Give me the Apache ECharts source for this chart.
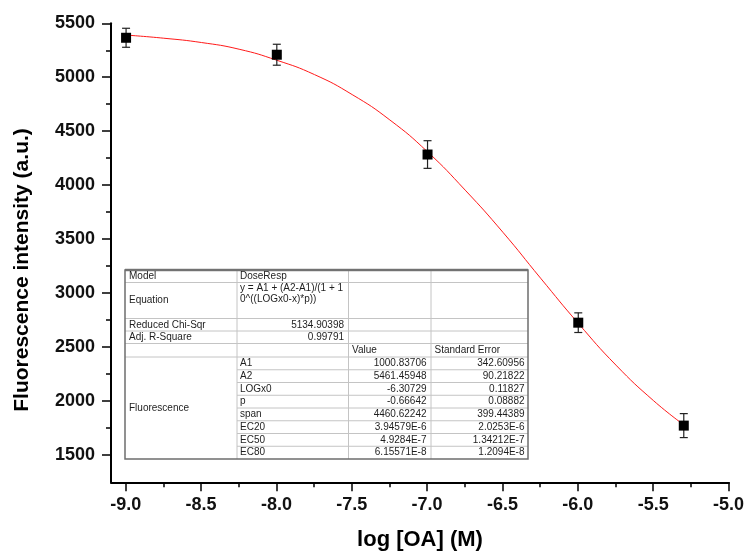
<!DOCTYPE html>
<html>
<head>
<meta charset="utf-8">
<script src="https://cdn.jsdelivr.net/npm/echarts@6/dist/echarts.min.js"></script>
<style>
html,body{margin:0;padding:0;background:#fff;}
#chart{width:747px;height:557px;}
</style>
</head>
<body>
<div id="chart"></div>
<script>
// ---- data ----
const doseX = [-9, -8, -7, -6, -5.3];
const meanY = [5366, 5209, 4285, 2728, 1775];
const errY = [88, 97, 128, 91, 111];
const fitX = [-9, -8.75, -8.5, -8.25, -8, -7.75, -7.5, -7.25, -7, -6.75, -6.5, -6.25, -6, -5.75, -5.5, -5.3];
const fitY = [5391, 5362, 5322, 5260, 5158, 5025, 4840, 4605, 4310, 3955, 3565, 3140, 2722, 2335, 2005, 1782];

const xTitle = 'log [OA] (M)';
const yTitle = 'Fluorescence intensity (a.u.)';

const tableModel = 'DoseResp';
const tableEquation = ['y = A1 + (A2-A1)/(1 + 1', '0^((LOGx0-x)*p))'];
const tableChiSqr = '5134.90398';
const tableAdjR2 = '0.99791';
const tableGroup = 'Fluorescence';
const paramNames = ['A1', 'A2', 'LOGx0', 'p', 'span', 'EC20', 'EC50', 'EC80'];
const paramValues = ['1000.83706', '5461.45948', '-6.30729', '-0.66642', '4460.62242', '3.94579E-6', '4.9284E-7', '6.15571E-8'];
const paramErrors = ['342.60956', '90.21822', '0.11827', '0.08882', '399.44389', '2.0253E-6', '1.34212E-7', '1.2094E-8'];

// ---- chart ----
const FONT = '"Liberation Sans", Arial, sans-serif';
const chart = echarts.init(document.getElementById('chart'));

const pointData = doseX.map((x, i) => [x, meanY[i]]);
const errData = doseX.map((x, i) => [x, meanY[i] - errY[i], meanY[i] + errY[i]]);
const fitData = fitX.map((x, i) => [x, fitY[i]]);

// table graphic
const cx = [125, 237, 348.5, 431, 528];
const ry = [270, 282.5, 318.5, 331, 343.5, 357];
const pRow = 12.75;
const tBottom = 459;
const g = [];
const lineC = '#c4c4c4';
g.push({type: 'rect', shape: {x: cx[0], y: ry[0], width: cx[4] - cx[0], height: tBottom - ry[0]}, style: {fill: '#fff', stroke: null}, z: 10});
function hline(x1, x2, y, c, w) {
  g.push({type: 'line', shape: {x1: x1, y1: y, x2: x2, y2: y}, style: {stroke: c || lineC, lineWidth: w || 1}, z: 11});
}
function vline(x, y1, y2, c, w) {
  g.push({type: 'line', shape: {x1: x, y1: y1, x2: x, y2: y2}, style: {stroke: c || lineC, lineWidth: w || 1}, z: 11});
}
for (let i = 1; i < ry.length; i++) hline(cx[0], cx[4], ry[i]);
for (let k = 1; k < paramNames.length; k++) hline(cx[1], cx[4], ry[5] + k * pRow);
for (let j = 1; j < 4; j++) vline(cx[j], ry[0], tBottom);
g.push({type: 'rect', shape: {x: cx[0], y: ry[0], width: cx[4] - cx[0], height: tBottom - ry[0]}, style: {fill: null, stroke: '#6e6e6e', lineWidth: 1.5}, z: 12});
hline(cx[0], cx[4], ry[0], '#808080', 2.5);
function txt(s, x, y, align) {
  g.push({type: 'text', x: x, y: y, style: {text: s, font: '10px ' + FONT, fill: '#1e1e1e', align: align || 'left', verticalAlign: 'middle'}, z: 13});
}
txt('Model', 129, 276.5);
txt(tableModel, 240, 276.5);
txt('Equation', 129, 300.5);
txt(tableEquation[0], 240, 288);
txt(tableEquation[1], 240, 299.5);
txt('Reduced Chi-Sqr', 129, 325);
txt(tableChiSqr, 344, 325, 'right');
txt('Adj. R-Square', 129, 337.5);
txt(tableAdjR2, 344, 337.5, 'right');
txt('Value', 352, 350.5);
txt('Standard Error', 434.5, 350.5);
txt(tableGroup, 129, (ry[5] + tBottom) / 2);
paramNames.forEach((n, i) => {
  const y = ry[5] + (i + 0.5) * pRow;
  txt(n, 240, y);
  txt(paramValues[i], 426.5, y, 'right');
  txt(paramErrors[i], 524.5, y, 'right');
});
// y axis title
g.push({type: 'text', x: 22, y: 270, rotation: Math.PI / 2,
  style: {text: yTitle, font: 'bold 21px ' + FONT, fill: '#000', align: 'center', verticalAlign: 'middle'}});

const tickLabel = {fontFamily: FONT, fontWeight: 'bold', color: '#111'};

chart.setOption({
  animation: false,
  backgroundColor: '#fff',
  grid: [
    {left: 111, right: 18, top: 23.3, bottom: 74.7},
    {left: 125.7, right: 18, top: 23.3, bottom: 102.3}
  ],
  xAxis: [
    {type: 'value', gridIndex: 0, min: -9.1, max: -5,
      axisLine: {show: true, lineStyle: {color: '#000', width: 2}},
      axisTick: {show: false}, axisLabel: {show: false}, splitLine: {show: false},
      name: xTitle, nameLocation: 'middle', nameGap: 47,
      nameTextStyle: {fontFamily: FONT, fontWeight: 'bold', fontSize: 22, color: '#000'}},
    {type: 'value', gridIndex: 1, min: -9, max: -5, interval: 0.5, offset: 27.6,
      axisLine: {show: false},
      axisTick: {show: true, length: 9, lineStyle: {color: '#000', width: 1.5}},
      minorTick: {show: true, splitNumber: 2, length: 5, lineStyle: {color: '#000', width: 1.5}},
      axisLabel: Object.assign({fontSize: 18, margin: 14, formatter: v => v.toFixed(1)}, tickLabel),
      splitLine: {show: false}}
  ],
  yAxis: [
    {type: 'value', gridIndex: 0, min: 1250, max: 5500,
      axisLine: {show: true, lineStyle: {color: '#000', width: 2}},
      axisTick: {show: false}, axisLabel: {show: false}, splitLine: {show: false}},
    {type: 'value', gridIndex: 1, min: 1500, max: 5500, interval: 500, offset: 14.7,
      axisLine: {show: false},
      axisTick: {show: true, length: 9, lineStyle: {color: '#000', width: 1.5}},
      minorTick: {show: true, splitNumber: 2, length: 5, lineStyle: {color: '#000', width: 1.5}},
      axisLabel: Object.assign({fontSize: 18, margin: 16, formatter: v => String(v)}, tickLabel),
      splitLine: {show: false}}
  ],
  series: [
    {type: 'line', xAxisIndex: 0, yAxisIndex: 0, data: fitData, smooth: 0.5, showSymbol: false,
      lineStyle: {color: '#ff1a1a', width: 1}, z: 2, silent: true},
    {type: 'custom', xAxisIndex: 0, yAxisIndex: 0, data: errData, z: 3,
      renderItem: function (params, api) {
        const lo = api.coord([api.value(0), api.value(1)]);
        const hi = api.coord([api.value(0), api.value(2)]);
        const w = 4;
        const st = {stroke: '#222', lineWidth: 1.2};
        return {type: 'group', children: [
          {type: 'line', shape: {x1: lo[0], y1: lo[1], x2: hi[0], y2: hi[1]}, style: st},
          {type: 'line', shape: {x1: lo[0] - w, y1: lo[1], x2: lo[0] + w, y2: lo[1]}, style: st},
          {type: 'line', shape: {x1: hi[0] - w, y1: hi[1], x2: hi[0] + w, y2: hi[1]}, style: st}
        ]};
      }},
    {type: 'scatter', xAxisIndex: 0, yAxisIndex: 0, data: pointData, symbol: 'rect', symbolSize: 10,
      itemStyle: {color: '#000', opacity: 1}, z: 4}
  ],
  graphic: g
});
</script>
</body>
</html>
